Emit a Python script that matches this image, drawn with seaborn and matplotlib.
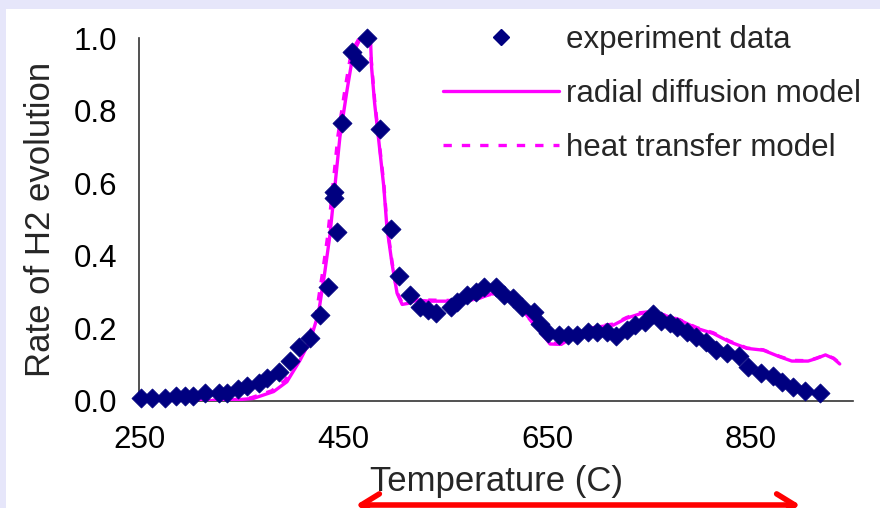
import matplotlib
matplotlib.use("Agg")
import matplotlib.pyplot as plt
from matplotlib.lines import Line2D
from matplotlib.patches import Rectangle, FancyArrowPatch
import seaborn as sns
import pandas as pd

# ---------------- data ----------------
exp_T = [252, 263, 275, 286, 295, 303, 315, 328, 336, 347, 356, 368, 375, 387,
         398, 407, 418, 427, 435, 441, 441, 444, 449, 459, 466, 474, 486, 497,
         505, 516, 525, 533, 541, 556, 562, 572, 580, 588, 600, 608, 617, 625,
         637, 643, 651, 662, 671, 679, 690, 699, 709, 718, 728, 736, 746, 754,
         762, 771, 777, 787, 796, 806, 816, 826, 838, 847, 860, 872, 880, 891,
         903, 918]
exp_rate = [0.007, 0.007, 0.007, 0.015, 0.015, 0.015, 0.023, 0.023, 0.023, 0.032,
            0.040, 0.049, 0.062, 0.081, 0.111, 0.150, 0.173, 0.237, 0.315, 0.558,
            0.577, 0.465, 0.765, 0.961, 0.935, 1.000, 0.748, 0.473, 0.345, 0.292,
            0.260, 0.251, 0.242, 0.260, 0.274, 0.292, 0.301, 0.315, 0.315, 0.292,
            0.283, 0.260, 0.246, 0.212, 0.188, 0.182, 0.182, 0.182, 0.191, 0.191,
            0.191, 0.179, 0.196, 0.209, 0.218, 0.240, 0.221, 0.214, 0.203, 0.191,
            0.175, 0.163, 0.140, 0.131, 0.124, 0.093, 0.078, 0.069, 0.053, 0.039,
            0.028, 0.021]

radial_T = [250, 300, 340, 362, 382, 395, 408, 418, 426, 432, 437, 442, 447, 454,
            460, 467, 473, 477, 478, 481, 485, 490, 493, 498, 503, 508, 514, 522,
            535, 555, 568, 584, 594, 604, 614, 624, 634, 645, 653, 664, 676, 689,
            702, 715, 728, 741, 751, 764, 780, 797, 813, 829, 846, 862, 878, 890,
            906, 914, 923, 931, 937]
radial_rate = [0.000, 0.000, 0.002, 0.007, 0.026, 0.053, 0.113, 0.168, 0.242, 0.352,
               0.453, 0.590, 0.728, 0.857, 0.958, 0.999, 1.000, 0.994, 0.920, 0.820,
               0.719, 0.590, 0.480, 0.379, 0.297, 0.266, 0.269, 0.278, 0.275, 0.275,
               0.274, 0.283, 0.295, 0.295, 0.278, 0.258, 0.223, 0.186, 0.157, 0.156,
               0.177, 0.196, 0.205, 0.209, 0.228, 0.240, 0.246, 0.237, 0.223, 0.200,
               0.186, 0.163, 0.145, 0.140, 0.122, 0.110, 0.110, 0.117, 0.127, 0.117,
               0.102]

heat_T = [250, 300, 340, 360, 380, 393, 406, 416, 424, 430, 435, 440, 445, 452,
          458, 465, 472, 476, 478, 481, 485, 490, 493, 498, 503, 508, 514, 522,
          535, 555, 568, 584, 594, 604, 614, 624, 634, 645, 653, 664, 676, 689,
          702, 715, 728, 741, 751, 764, 780, 797, 813, 829, 846, 862, 878, 890,
          906, 914, 923, 931, 937]
heat_rate = [0.000, 0.001, 0.003, 0.009, 0.028, 0.056, 0.115, 0.170, 0.245, 0.355,
             0.455, 0.590, 0.730, 0.860, 0.960, 0.995, 1.000, 0.990, 0.930, 0.830,
             0.725, 0.600, 0.490, 0.385, 0.300, 0.270, 0.272, 0.280, 0.278, 0.277,
             0.276, 0.285, 0.293, 0.293, 0.276, 0.256, 0.222, 0.186, 0.160, 0.158,
             0.178, 0.197, 0.207, 0.212, 0.230, 0.243, 0.246, 0.238, 0.224, 0.202,
             0.188, 0.165, 0.146, 0.141, 0.123, 0.112, 0.111, 0.118, 0.127, 0.118,
             0.104]

x_ticks = [250, 450, 650, 850]
y_ticks = [0.0, 0.2, 0.4, 0.6, 0.8, 1.0]
labels = ["experiment data", "radial diffusion model", "heat transfer model"]

# ---------------- style ----------------
sns.set_style("white")
plt.rcParams["font.family"] = ["Liberation Sans", "DejaVu Sans"]

NAVY = "#000080"
MAGENTA = "#ff00ff"

W, H = 880, 508
fig = plt.figure(figsize=(W / 100, H / 100), dpi=100)
fig.patch.set_facecolor("white")
# lavender frame strips
fig.add_artist(Rectangle((0, 1 - 9 / H), 1, 9 / H, transform=fig.transFigure,
                         facecolor="#e6e6fa", edgecolor="none", zorder=0))
fig.add_artist(Rectangle((0, 0), 6 / W, 1, transform=fig.transFigure,
                         facecolor="#e6e6fa", edgecolor="none", zorder=0))

ax = fig.add_axes([139 / W, 1 - 401 / H, (853 - 139) / W, (401 - 38) / H])
ax.set_facecolor("none")

df_exp = pd.DataFrame({"T": exp_T, "rate": exp_rate})
df_rad = pd.DataFrame({"T": radial_T, "rate": radial_rate})
df_heat = pd.DataFrame({"T": heat_T, "rate": heat_rate})

sns.lineplot(data=df_heat, x="T", y="rate", ax=ax, color=MAGENTA, lw=2.4,
             linestyle=(0, (2.5, 3)), sort=False, zorder=2)
sns.lineplot(data=df_rad, x="T", y="rate", ax=ax, color=MAGENTA, lw=2.4,
             sort=False, zorder=3)
sns.scatterplot(data=df_exp, x="T", y="rate", ax=ax, color=NAVY, marker="D",
                s=95, edgecolor=NAVY, linewidth=0.5, zorder=4, clip_on=False)

ax.set_xlim(250, 950)
ax.set_ylim(0, 1.0)
ax.set_xticks(x_ticks)
ax.set_xticklabels([str(v) for v in x_ticks])
ax.set_yticks(y_ticks)
ax.set_yticklabels([f"{v:.1f}" for v in y_ticks])

for side in ["top", "right"]:
    ax.spines[side].set_visible(False)
for side in ["left", "bottom"]:
    ax.spines[side].set_color("#333333")
    ax.spines[side].set_linewidth(1.2)

ax.tick_params(axis="both", direction="out", length=5.5, width=1,
               color="#808080", labelsize=22.5, labelcolor="black")
ax.tick_params(axis="y", pad=10)
ax.tick_params(axis="x", pad=12)

ax.set_xlabel("Temperature (C)", fontsize=25, labelpad=7)
ax.set_ylabel("Rate of H2 evolution", fontsize=25, labelpad=12)

handles = [
    Line2D([], [], ls="none", marker="D", color=NAVY, markersize=8),
    Line2D([], [], color=MAGENTA, lw=2.4),
    Line2D([], [], color=MAGENTA, lw=2.4, linestyle=(0, (2.5, 3))),
]
fig.legend(handles, labels, loc="upper left",
           bbox_to_anchor=(443 / W, 1 - 25 / H), frameon=False,
           fontsize=22.5, handlelength=3.7, handletextpad=0.25,
           labelspacing=0.76, borderpad=0, borderaxespad=0)

# red double-headed arrow at the bottom
arrow = FancyArrowPatch((356 / W, 1 - 505 / H), (800 / W, 1 - 505 / H),
                        transform=fig.transFigure,
                        arrowstyle="<->,head_length=13,head_width=8",
                        color="#ff0000", lw=4, mutation_scale=1,
                        shrinkA=0, shrinkB=0, clip_on=False)
fig.add_artist(arrow)

fig.savefig("out.png", dpi=100)
